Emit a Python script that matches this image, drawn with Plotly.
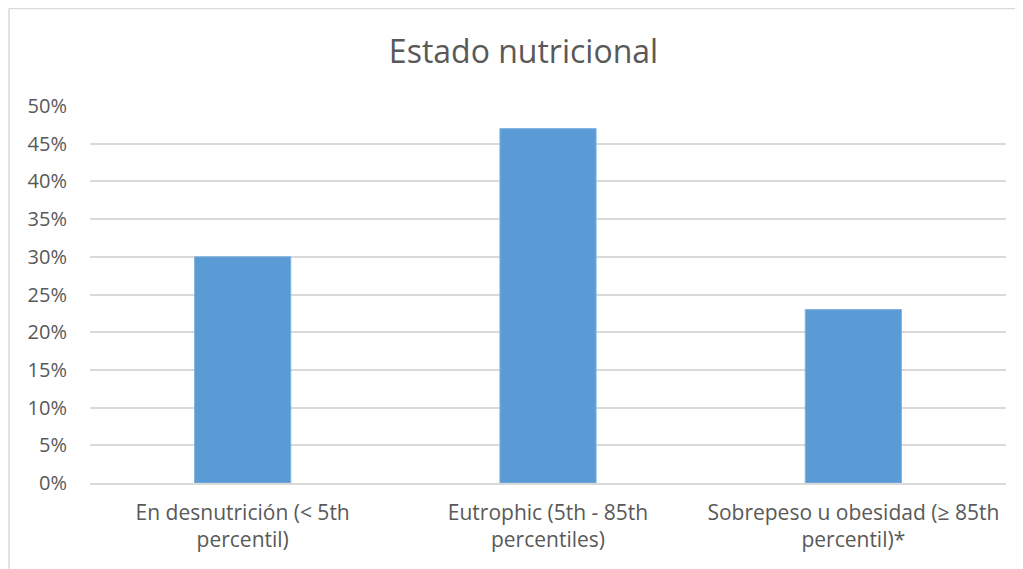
import plotly.graph_objects as go

categories = ["En desnutrición (< 5th<br>percentil)",
              "Eutrophic (5th - 85th<br>percentiles)",
              "Sobrepeso u obesidad (≥ 85th<br>percentil)*"]
values = [0.30, 0.47, 0.23]
tick_vals = [0, 0.05, 0.10, 0.15, 0.20, 0.25, 0.30, 0.35, 0.40, 0.45, 0.50]
tick_text = ["0%", "5%", "10%", "15%", "20%", "25%", "30%", "35%", "40%", "45%", "50%"]

font_family = "Open Sans, Noto Sans, Arial, sans-serif"
text_color = "#595959"
grid_color = "#d9d9d9"

W, H = 1015, 561  # page body adds an 8px offset
L, R, T, B = 82, 17, 98, 86
pw, ph = W - L - R, H - T - B

fig = go.Figure(go.Bar(
    x=categories, y=values,
    marker=dict(color="#5b9bd5", line=dict(color="#7fb2e0", width=1)),
    width=0.315,
))

fig.update_layout(
    width=W, height=H,
    margin=dict(l=L, r=R, t=T, b=B),
    paper_bgcolor="white", plot_bgcolor="white",
    font=dict(family=font_family, color=text_color, size=21),
    title=dict(text="Estado nutricional", x=515.5/W, xref="container",
               y=1 - 44/H, yref="container", xanchor="center", yanchor="middle",
               font=dict(size=32, color=text_color, family=font_family)),
    showlegend=False,
)
fig.update_yaxes(range=[0, 0.5], tickvals=tick_vals, ticktext=tick_text,
                 showgrid=True, gridcolor=grid_color, gridwidth=1.5,
                 zeroline=False, showline=False, ticklabelstandoff=22,
                 tickfont=dict(size=20, color=text_color))
fig.update_xaxes(showgrid=False, showline=True, linecolor=grid_color, linewidth=1.5,
                 ticklabelstandoff=10, tickfont=dict(size=21, color=text_color))

# outer chart border (top and left visible)
bx = (1 - L) / pw
by = 1 + (T - 0.5) / ph
fig.add_shape(type="line", xref="paper", yref="paper",
              x0=bx, x1=1.1, y0=by, y1=by,
              line=dict(color=grid_color, width=1.5))
fig.add_shape(type="line", xref="paper", yref="paper",
              x0=bx, x1=bx, y0=-0.3, y1=by,
              line=dict(color=grid_color, width=1.5))

fig.write_html("out.html")
